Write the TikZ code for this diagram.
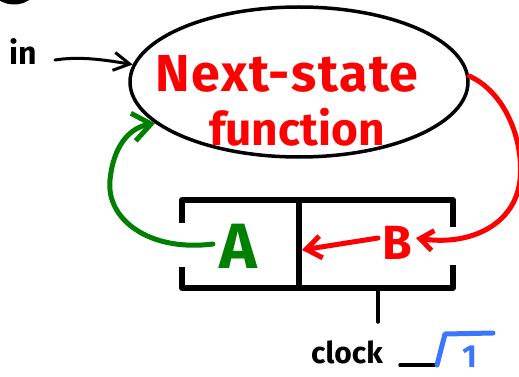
\documentclass[tikz,border=0pt]{standalone}
\usepackage{fontspec}
\setmainfont{Fira Sans}
\usetikzlibrary{arrows.meta,shapes.geometric}
\definecolor{penred}{RGB}{255,0,0}
\definecolor{pengreen}{RGB}{0,128,0}
\definecolor{penblue}{RGB}{58,118,255}
\tikzset{
  marker/.style={line width=#1, line cap=round, line join=round},
  label text/.style={font=\bfseries\fontsize{#1}{#1}\selectfont, inner sep=0pt},
  penhead/.style n args={2}{-{Straight Barb[length=#1,width=#2]}},
}
\begin{document}
\begin{tikzpicture}[x=1pt, y=-1pt]
  \useasboundingbox (0,0) rectangle (519,377);

  % fragment of a ring at the top-left corner
  \draw[marker=5pt] (-10.4,-15.1) arc[start angle=160, end angle=20, radius=26];

  % next-state function bubble
  \node[draw, ellipse, marker=3.5pt, minimum width=338pt, minimum height=150pt,
        inner sep=0pt] (nsf) at (299,82) {};
  \node[label text=52pt, text=penred, anchor=base] (t1) at (287,92)
    {\addfontfeature{LetterSpace=3}Next-state};
  \node[label text=46pt, text=penred, anchor=base] (t2) at (297,145) {function};

  % input
  \node[label text=32pt, anchor=base] (in) at (23,65) {in};
  \draw[marker=3pt, penhead={16pt}{18pt}] ([xshift=18pt,yshift=-8pt]in.east) .. controls (80,56) and (105,60) .. (nsf.174);

  % state register
  \draw[marker=6pt, line cap=butt] (182,223) -- (182,200) -- (453,200) -- (453,227);
  \draw[marker=6pt, line cap=butt] (182,267) -- (182,288) -- (453,288) -- (453,265);
  \draw[marker=6pt, line cap=butt] (299,200) coordinate (divtop) -- (299,288) coordinate (divbot);
  \node[label text=64pt, text=pengreen] (A) at (238,246) {A};
  \node[label text=48pt, text=penred] (B) at (397,243) {B};
  \coordinate (divmid) at (302,250);

  % clock input
  \coordinate (clk) at (378,288);
  \draw[marker=3.5pt] (clk) -- ++(0,34) coordinate (clkend);
  \node[label text=30pt, anchor=base] (clock) at (347,363) {clock};
  \coordinate (edge0) at (400,365);
  \coordinate (edge1) at (437,365);
  \draw[marker=3.5pt] (edge0) -- (edge1);
  \draw[marker=5pt, penblue] (edge1) -- (445,334) -- (493,333);
  \node[label text=32pt, text=penblue, anchor=base] (one) at (470,367) {1};

  % feedback: A back into the function
  \draw[marker=5pt, pengreen, penhead={18pt}{28pt}]
    ([xshift=-6pt,yshift=2pt]A.west) .. controls (150,252) and (106,220) .. (110,180)
    .. controls (113,148) and (128,128) .. (nsf.196);

  % function output into B
  \draw[marker=5pt, penred, penhead={13pt}{20pt}]
    (nsf.2) .. controls (505,92) and (524,140) .. (520,180)
    .. controls (515,225) and (470,246) .. ([xshift=4pt,yshift=5pt]B.east);

  % B shifts into A
  \draw[marker=5pt, penred, penhead={15pt}{22pt}] ([xshift=-4pt,yshift=5pt]B.west) -- (divmid);
\end{tikzpicture}
\end{document}
